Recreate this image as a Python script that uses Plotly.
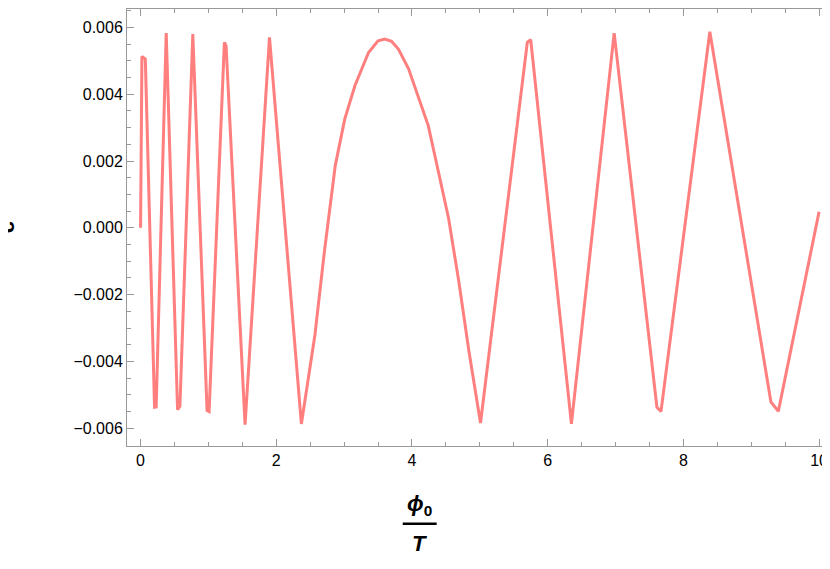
import plotly.graph_objects as go

x_vals = [0.0, 0.02, 0.07, 0.206, 0.23, 0.378, 0.545, 0.58, 0.77, 0.98, 1.01, 1.235, 1.26,
          1.54, 1.90, 2.37, 2.57, 2.71, 2.87, 3.01, 3.16, 3.36, 3.50, 3.60, 3.70, 3.80, 3.95,
          4.09, 4.24, 4.38, 4.54, 4.69, 4.84, 5.01, 5.70, 5.75, 6.35, 6.98, 7.61, 7.67, 8.39,
          9.29, 9.40, 10.0]
c_vals = [0.0, 0.00513, 0.00505, -0.00537, -0.00536, 0.00583, -0.00544, -0.00534, 0.0058,
          -0.00547, -0.0055, 0.00555, 0.00545, -0.00589, 0.0057, -0.00587, -0.0032, -0.0007,
          0.00187, 0.00326, 0.00426, 0.00525, 0.0056, 0.00565, 0.00558, 0.00535, 0.00476,
          0.00396, 0.00306, 0.00177, 0.00028, -0.0016, -0.0037, -0.00584, 0.00555, 0.00563,
          -0.00587, 0.00583, -0.00537, -0.0055, 0.00587, -0.00521, -0.00549, 0.00048]
x_ticks = [0, 2, 4, 6, 8, 10]
y_ticks = [-0.006, -0.004, -0.002, 0.0, 0.002, 0.004, 0.006]
y_labels = ["\u22120.006", "\u22120.004", "\u22120.002", "0.000", "0.002", "0.004", "0.006"]

fig = go.Figure(go.Scatter(x=x_vals, y=c_vals, mode="lines",
                           line=dict(color="#ff7f7f", width=3), hoverinfo="skip"))

axis_common = dict(showgrid=False, zeroline=False, showline=True, mirror="allticks",
                   linecolor="#999999", linewidth=1, ticks="inside", ticklen=7,
                   tickcolor="#999999", tickfont=dict(family="Liberation Sans", size=16, color="black"))
fig.update_xaxes(range=[-0.2, 10.22], tickvals=x_ticks,
                 minor=dict(ticks="inside", ticklen=4, dtick=0.5, tickcolor="#999999", showgrid=False),
                 **axis_common)
fig.update_yaxes(range=[-0.00653, 0.00655], tickvals=y_ticks, ticktext=y_labels,
                 minor=dict(ticks="inside", ticklen=4, dtick=0.0005, tickcolor="#999999", showgrid=False),
                 **axis_common)

fig.add_annotation(text="<b><i>ϕ</i><sub>0</sub></b>", xref="paper", yref="paper",
                   x=0.414, y=-0.135, yanchor="middle", showarrow=False,
                   font=dict(family="Liberation Sans", size=22, color="black"))
fig.add_shape(type="line", xref="paper", yref="paper", x0=0.39, x1=0.438, y0=-0.178, y1=-0.178,
              line=dict(color="black", width=2.5))
fig.add_annotation(text="<b><i>T</i></b>", xref="paper", yref="paper",
                   x=0.414, y=-0.222, yanchor="middle", showarrow=False,
                   font=dict(family="Liberation Sans", size=22, color="black"))
fig.add_annotation(text="<b>c</b>", xref="paper", yref="paper", x=-0.17, y=0.5,
                   xanchor="center", textangle=-90, showarrow=False,
                   font=dict(family="Liberation Sans", size=22, color="black"))

fig.update_layout(width=830, height=569, margin=dict(l=119, r=4, t=1, b=131),
                  plot_bgcolor="white", paper_bgcolor="white", showlegend=False)
fig.write_html("out.html")
